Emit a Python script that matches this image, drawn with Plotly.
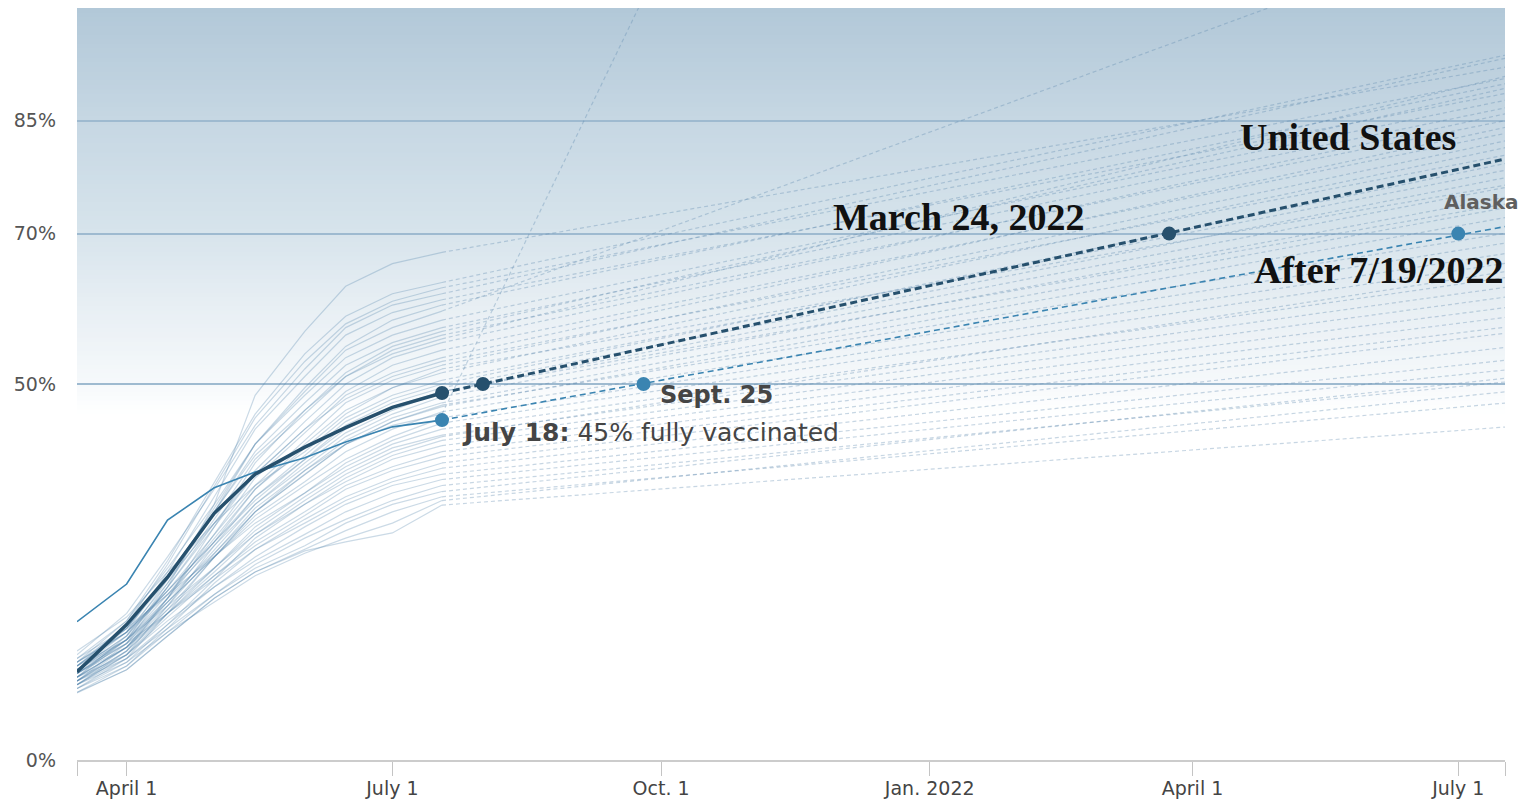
import plotly.graph_objects as go

# ---------------- data ----------------
hist_dates = ["2021-03-15", "2021-04-01", "2021-04-15", "2021-05-01", "2021-05-15",
              "2021-06-01", "2021-06-15", "2021-07-01", "2021-07-18"]
proj_end_date = "2022-07-18"

us_hist = [11.7, 18.0, 24.3, 32.8, 38.0, 41.6, 44.2, 46.9, 48.8]
us_end = 80.0
us_marker_dates = ["2021-07-18", "2021-08-01", "2022-03-24"]
us_marker_vals = [48.8, 50.0, 70.0]

ak_hist = [18.4, 23.4, 31.9, 36.2, 38.3, 40.2, 42.3, 44.3, 45.2]
ak_end = 71.0
ak_marker_dates = ["2021-07-18", "2021-09-25", "2022-07-01"]
ak_marker_vals = [45.2, 50.0, 70.0]

state_hist = [
    [10.5, 15.5, 23.0, 34.0, 48.5, 57.0, 63.0, 66.0, 67.5],
    [13.0, 18.5, 26.5, 37.0, 46.0, 54.0, 59.0, 62.0, 63.5],
    [12.5, 18.0, 26.0, 36.5, 45.5, 53.0, 58.0, 61.0, 62.8],
    [14.0, 19.5, 27.0, 36.0, 44.5, 52.0, 57.5, 60.5, 62.0],
    [12.0, 17.0, 25.0, 35.0, 44.0, 51.0, 56.5, 59.5, 61.2],
    [11.5, 16.0, 23.5, 33.0, 42.0, 49.5, 55.0, 58.5, 60.5],
    [11.0, 16.5, 24.0, 33.5, 42.0, 49.0, 54.5, 57.5, 59.7],
    [13.5, 18.5, 25.5, 34.0, 42.0, 48.5, 53.5, 56.5, 58.5],
    [12.0, 17.5, 24.5, 33.0, 41.0, 47.5, 52.5, 55.5, 57.5],
    [10.0, 14.5, 21.5, 31.0, 39.5, 46.5, 51.5, 55.0, 57.0],
    [12.5, 17.0, 23.5, 32.0, 40.0, 46.0, 51.0, 54.5, 56.5],
    [12.5, 17.5, 24.5, 33.0, 40.5, 46.5, 51.0, 54.0, 56.0],
    [11.0, 16.0, 23.0, 31.5, 38.5, 45.0, 50.0, 53.5, 55.5],
    [13.0, 17.5, 24.0, 31.5, 38.0, 44.0, 49.0, 52.5, 54.5],
    [10.5, 15.0, 21.5, 30.0, 37.5, 43.5, 48.5, 51.5, 53.5],
    [12.0, 16.5, 23.0, 31.0, 38.0, 44.0, 48.0, 51.0, 53.0],
    [12.0, 16.5, 22.5, 30.0, 36.5, 42.5, 47.5, 50.5, 52.5],
    [11.5, 15.5, 21.5, 29.0, 36.0, 42.0, 46.5, 49.5, 52.0],
    [11.5, 16.0, 22.0, 29.5, 36.0, 41.5, 46.0, 49.5, 51.5],
    [14.5, 19.0, 25.0, 31.5, 36.5, 41.0, 45.5, 48.5, 50.5],
    [10.0, 14.0, 20.5, 28.5, 35.0, 40.5, 45.0, 48.0, 50.0],
    [12.5, 17.0, 22.5, 29.0, 34.5, 40.0, 44.5, 47.5, 49.5],
    [13.0, 17.0, 22.5, 29.0, 35.0, 40.0, 44.0, 47.0, 49.0],
    [11.0, 15.0, 21.0, 28.0, 34.0, 39.5, 43.5, 46.5, 49.0],
    [13.0, 17.0, 22.0, 28.5, 34.0, 39.0, 43.0, 46.0, 48.3],
    [9.5, 13.5, 19.5, 27.0, 33.0, 38.5, 42.5, 45.5, 47.5],
    [11.0, 15.0, 20.5, 27.5, 33.5, 38.5, 42.0, 45.0, 47.2],
    [12.0, 16.0, 21.5, 27.5, 33.0, 38.0, 42.0, 45.0, 47.0],
    [11.5, 15.5, 21.0, 27.0, 32.5, 37.0, 41.0, 44.0, 46.3],
    [10.5, 14.5, 20.0, 27.0, 33.0, 38.0, 42.0, 44.5, 46.0],
    [12.0, 16.0, 21.0, 27.0, 32.0, 36.5, 40.0, 43.0, 45.5],
    [10.0, 14.0, 19.5, 25.5, 31.0, 35.5, 39.5, 42.5, 44.8],
    [13.5, 17.5, 22.0, 27.0, 31.5, 35.5, 39.0, 42.0, 44.0],
    [11.0, 15.0, 20.0, 25.5, 30.5, 35.0, 38.5, 41.5, 43.2],
    [10.5, 14.5, 19.5, 25.0, 30.0, 34.5, 38.0, 41.0, 43.0],
    [9.5, 13.0, 18.0, 24.0, 29.5, 34.0, 37.5, 40.5, 42.5],
    [12.5, 16.0, 20.5, 25.5, 30.0, 34.0, 37.0, 40.0, 41.8],
    [10.5, 14.0, 19.0, 24.5, 29.0, 33.0, 36.5, 39.0, 41.0],
    [11.5, 15.0, 19.5, 24.5, 28.5, 32.5, 36.0, 38.5, 40.3],
    [9.0, 12.5, 17.5, 23.5, 28.0, 32.0, 35.0, 37.5, 39.5],
    [12.0, 15.5, 19.5, 24.0, 28.0, 31.5, 34.5, 37.0, 38.8],
    [10.0, 13.5, 18.0, 23.0, 27.0, 31.0, 34.0, 36.5, 38.0],
    [11.0, 14.0, 18.5, 23.0, 26.5, 30.0, 33.0, 35.5, 37.3],
    [9.5, 12.5, 17.0, 22.0, 26.0, 29.5, 32.0, 34.5, 36.5],
    [10.5, 13.5, 17.5, 22.0, 25.5, 28.5, 31.5, 34.0, 35.7],
    [9.0, 12.0, 16.5, 21.5, 25.0, 28.0, 30.5, 33.0, 35.0],
    [10.0, 13.0, 17.0, 21.0, 24.5, 27.5, 29.5, 31.5, 34.5],
    [8.9, 12.0, 16.5, 21.5, 25.0, 27.8, 29.0, 30.2, 33.9],
]
state_end = [
    92.2, 93.8, 90.7, 93.4, 88.7, 90.0, 111.7, 87.8, 86.8, 89.4,
    85.1, 91.0, 86.0, 83.4, 84.2, 80.5, 82.4, 76.5, 81.5, 78.5,
    79.4, 77.5, 74.0, 76.2, 74.9, 73.5, 70.1, 72.2, 68.8, 339.0,
    67.4, 66.1, 64.2, 62.9, 65.0, 61.6, 60.2, 58.9, 57.6, 56.8,
    54.9, 53.2, 51.9, 50.3, 50.8, 47.5, 49.0, 44.3,
]

x_tick_vals = ["2021-03-15", "2021-04-01", "2021-07-01", "2021-10-01", "2022-01-01",
               "2022-04-01", "2022-07-01", "2022-07-17"]
x_tick_text = ["", "April 1", "July 1", "Oct. 1", "Jan. 2022", "April 1", "July 1", ""]
y_tick_vals = [0, 50, 70, 85]
y_tick_text = ["0%", "50%", "70%", "85%"]

# ---------------- styles ----------------
STATE_SOLID = "rgba(70,122,165,0.28)"
STATE_DASH = "rgba(90,135,172,0.34)"
US_COLOR = "#26506d"
AK_COLOR = "#3a84b1"
SANS = "DejaVu Sans"
SERIF = "Liberation Serif"

fig = go.Figure()

for h, e in zip(state_hist, state_end):
    fig.add_trace(go.Scatter(x=hist_dates, y=h, mode="lines",
                             line=dict(color=STATE_SOLID, width=1.2),
                             hoverinfo="skip", showlegend=False))
    fig.add_trace(go.Scatter(x=[hist_dates[-1], proj_end_date], y=[h[-1], e], mode="lines",
                             line=dict(color=STATE_DASH, width=1.2, dash="4px,3px"),
                             hoverinfo="skip", showlegend=False))

# Alaska
fig.add_trace(go.Scatter(x=hist_dates, y=ak_hist, mode="lines",
                         line=dict(color=AK_COLOR, width=1.6),
                         hoverinfo="skip", showlegend=False))
fig.add_trace(go.Scatter(x=[hist_dates[-1], proj_end_date], y=[ak_hist[-1], ak_end], mode="lines",
                         line=dict(color=AK_COLOR, width=1.6, dash="6px,4px"),
                         hoverinfo="skip", showlegend=False))
fig.add_trace(go.Scatter(x=ak_marker_dates, y=ak_marker_vals, mode="markers",
                         marker=dict(color=AK_COLOR, size=14),
                         hoverinfo="skip", showlegend=False))

# United States
fig.add_trace(go.Scatter(x=hist_dates, y=us_hist, mode="lines",
                         line=dict(color=US_COLOR, width=3.5),
                         hoverinfo="skip", showlegend=False))
fig.add_trace(go.Scatter(x=[hist_dates[-1], proj_end_date], y=[us_hist[-1], us_end], mode="lines",
                         line=dict(color=US_COLOR, width=3, dash="7px,4px"),
                         hoverinfo="skip", showlegend=False))
fig.add_trace(go.Scatter(x=us_marker_dates, y=us_marker_vals, mode="markers",
                         marker=dict(color=US_COLOR, size=14),
                         hoverinfo="skip", showlegend=False))

# ---------------- background gradient ----------------
stops = [(46.0, (255, 255, 255)), (50.0, (246, 249, 251)), (60.0, (232, 239, 244)),
         (70.0, (215, 228, 236)), (85.0, (198, 215, 227)), (100.0, (178, 200, 216))]
shapes = []
n = 90
lo, hi = 46.0, 100.0
for i in range(n):
    y0 = lo + (hi - lo) * i / n
    y1 = lo + (hi - lo) * (i + 1) / n
    ym = (y0 + y1) / 2
    for (a, ca), (b, cb) in zip(stops[:-1], stops[1:]):
        if a <= ym <= b:
            t = (ym - a) / (b - a)
            c = tuple(round(ca[k] + (cb[k] - ca[k]) * t) for k in range(3))
            break
    shapes.append(dict(type="rect", xref="paper", yref="y", x0=0, x1=1, y0=y0,
                       y1=min(y1 + 0.4, 100.0),
                       fillcolor="rgb(%d,%d,%d)" % c, line=dict(width=0), layer="below"))

annotations = [
    dict(x="2022-07-01", y=82.9, text="<b>United States</b>", xanchor="right", yanchor="middle",
         showarrow=False, font=dict(family=SERIF, size=38, color="#111111")),
    dict(x="2022-02-24", y=72.2, text="<b>March 24, 2022</b>", xanchor="right", yanchor="middle",
         showarrow=False, font=dict(family=SERIF, size=38, color="#111111")),
    dict(x=1.0, xref="paper", y=65.2, text="<b>After 7/19/2022</b>", xanchor="right", yanchor="middle",
         showarrow=False, font=dict(family=SERIF, size=38, color="#111111")),
    dict(x="2022-07-09", y=74.2, text="<b>Alaska</b>", xanchor="center", yanchor="middle",
         showarrow=False, font=dict(family=SANS, size=20, color="#5f5f5f")),
    dict(x="2021-09-30", y=48.6, text="<b>Sept. 25</b>", xanchor="left", yanchor="middle",
         showarrow=False, font=dict(family=SANS, size=24, color="#454545")),
    dict(x="2021-07-24", y=43.6, text="<b>July 18:</b> 45% fully vaccinated", xanchor="left",
         yanchor="middle", showarrow=False, font=dict(family=SANS, size=25, color="#454545")),
]

fig.update_layout(
    width=1536, height=804,
    margin=dict(l=77, r=31, t=8, b=44),
    paper_bgcolor="white", plot_bgcolor="white",
    shapes=shapes, annotations=annotations,
    showlegend=False,
    xaxis=dict(range=["2021-03-15", "2022-07-17"], type="date", automargin=False,
               tickvals=x_tick_vals, ticktext=x_tick_text,
               ticks="outside", ticklen=14, tickcolor="#c4c4c4", tickwidth=1,
               showline=True, linecolor="#cccccc", linewidth=2,
               showgrid=False, zeroline=False, ticklabelstandoff=-4,
               tickfont=dict(family=SANS, size=19, color="#444444")),
    yaxis=dict(range=[0, 100], tickvals=y_tick_vals, ticktext=y_tick_text, automargin=False,
               showgrid=True, gridcolor="#9ebad0", gridwidth=1.5,
               zeroline=False, showline=False, ticks="", ticklabelstandoff=20,
               tickfont=dict(family=SANS, size=19, color="#555555")),
)

fig.write_html("out.html", config={"displayModeBar": False},
               post_script="document.body.style.margin='0';document.body.style.overflow='hidden';")
